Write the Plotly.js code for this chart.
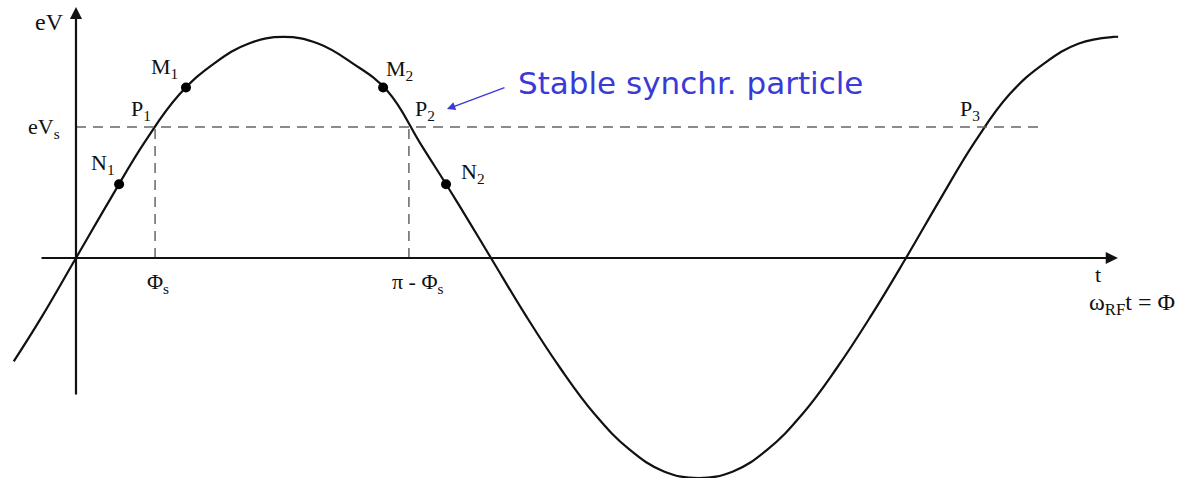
<!DOCTYPE html>
<html>
<head>
<meta charset="utf-8">
<script src="https://cdn.plot.ly/plotly-3.0.1.min.js"></script>
<style>
  html, body { margin: 0; padding: 0; background: #fff; }
  #chart { width: 1178px; height: 478px; }
</style>
</head>
<body>
<div id="chart"></div>
<script>
// RF voltage seen by the particle
// phase in degrees (0 = origin, 180 = pi), voltage in units of the peak
var phase = [-27, -15, 0, 15, 30, 45, 60, 75, 90, 105, 120, 135, 150, 165, 180,
             195, 210, 225, 240, 255, 270, 285, 300, 315, 330, 345, 360,
             375, 390, 405, 420, 435, 450, 452];
var voltage = [-0.47, -0.27, 0, 0.27, 0.53, 0.745, 0.885, 0.975, 1.005, 0.975, 0.885, 0.76, 0.51, 0.26, 0,
               -0.26, -0.5, -0.71, -0.87, -0.97, -1.0, -0.97, -0.87, -0.71, -0.5, -0.26, 0,
               0.27, 0.53, 0.745, 0.885, 0.975, 1.005, 1.005];

// particles drawn as dots
var dotPhase = [18.7, 47.7, 133.2, 160.5];
var dotVoltage = [0.335, 0.775, 0.775, 0.335];

// synchronous phase and voltage
var eVs = 0.595;
var phiS = 34.3;
var piMinusPhiS = 144.4;
var eVsEnd = 418;

// point labels
var pointNames = ['M<sub>1</sub>', 'P<sub>1</sub>', 'N<sub>1</sub>', 'M<sub>2</sub>', 'P<sub>2</sub>', 'N<sub>2</sub>', 'P<sub>3</sub>'];
var pointX = [38.6, 28.2, 11.7, 140.1, 151.5, 172.2, 387.7];
var pointY = [0.864, 0.673, 0.427, 0.855, 0.673, 0.386, 0.673];

var serif = {family: 'Liberation Serif, Times New Roman, serif', size: 22, color: '#111'};
var dashed = {color: '#666', width: 1.5, dash: '10px,7px'};

var traces = [
  {
    x: phase, y: voltage, mode: 'lines', type: 'scatter',
    line: {color: '#111', width: 2.2, shape: 'spline', smoothing: 1.2},
    hoverinfo: 'skip'
  },
  {
    x: dotPhase, y: dotVoltage, mode: 'markers', type: 'scatter',
    marker: {color: '#000', size: 10},
    hoverinfo: 'skip'
  }
];

var labels = pointNames.map(function (t, i) {
  return {x: pointX[i], y: pointY[i], text: t, showarrow: false, font: serif};
});

var annotations = labels.concat([
  // axes with arrow heads
  {x: 0, y: 1.141, ax: 0, ay: -0.627, axref: 'x', ayref: 'y', text: '', showarrow: true,
   arrowhead: 2, arrowsize: 1.1, arrowwidth: 2.2, arrowcolor: '#111'},
  {x: 451.9, y: 0, ax: -15.6, ay: 0, axref: 'x', ayref: 'y', text: '', showarrow: true,
   arrowhead: 2, arrowsize: 1.1, arrowwidth: 2.2, arrowcolor: '#111'},
  // axis texts
  {x: -11.3, y: 1.073, text: 'eV', showarrow: false, font: {family: serif.family, size: 24, color: '#111'}},
  {x: -13.8, y: 0.59, text: 'eV<sub>s</sub>', showarrow: false, font: serif},
  {x: phiS + 1.3, y: -0.114, text: '\u03A6<sub>s</sub>', showarrow: false, font: serif},
  {x: piMinusPhiS + 4, y: -0.114, text: '\u03C0 - \u03A6<sub>s</sub>', showarrow: false, font: serif},
  {x: 443.2, y: -0.075, text: 't', showarrow: false, font: serif},
  {xref: 'paper', yref: 'y', x: 0.999, y: -0.21, xanchor: 'right', text: '\u03C9<sub>RF</sub>t = \u03A6',
   showarrow: false, font: {family: serif.family, size: 24, color: '#111'}},
  // stable synchronous particle note
  {x: 266.7, y: 0.795, text: 'Stable synchr. particle', showarrow: false,
   font: {family: 'Comic Sans MS, DejaVu Sans, sans-serif', size: 31, color: '#3a3ad6'}},
  {x: 160.9, y: 0.677, ax: 186.5, ay: 0.777, axref: 'x', ayref: 'y', text: '', showarrow: true,
   arrowhead: 2, arrowsize: 1.2, arrowwidth: 1.4, arrowcolor: '#3a3ad6'}
]);

var shapes = [
  {type: 'line', x0: 0, x1: eVsEnd, y0: eVs, y1: eVs, line: dashed},
  {type: 'line', x0: phiS, x1: phiS, y0: 0, y1: eVs, line: dashed},
  {type: 'line', x0: piMinusPhiS, x1: piMinusPhiS, y0: 0, y1: eVs, line: dashed}
];

var layout = {
  width: 1178, height: 478,
  margin: {l: 0, r: 0, t: 0, b: 0},
  paper_bgcolor: '#fff', plot_bgcolor: '#fff',
  showlegend: false,
  xaxis: {range: [-32.96, 477.98], visible: false, fixedrange: true},
  yaxis: {range: [-1.0, 1.1727], visible: false, fixedrange: true},
  shapes: shapes,
  annotations: annotations
};

Plotly.newPlot('chart', traces, layout, {staticPlot: true});
</script>
</body>
</html>
